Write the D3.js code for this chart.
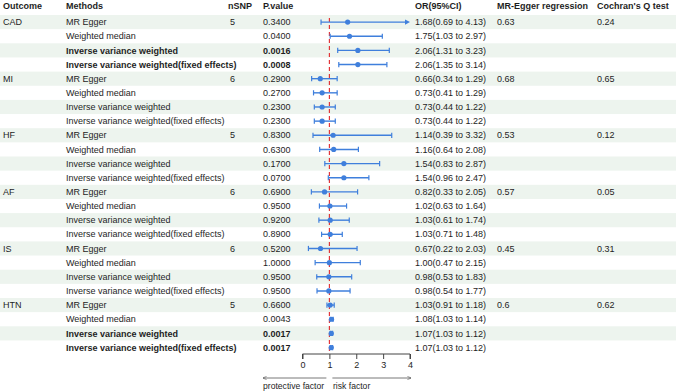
<!DOCTYPE html>
<html>
<head>
<meta charset="utf-8">
<script src="https://cdn.jsdelivr.net/npm/d3@7"></script>
<style>
  body { margin: 0; background: #fff; }
  svg { display: block; font-family: "Liberation Sans", Arial, sans-serif; }
</style>
</head>
<body>
<svg id="chart" width="676" height="392"></svg>
<script>
const outcomes = ['CAD', 'MI', 'HF', 'AF', 'IS', 'HTN']
const nSNP = [5, 6, 5, 6, 6, 5]
const eggerRegression = ['0.63', '0.68', '0.53', '0.57', '0.45', '0.6']
const cochranQ = ['0.24', '0.65', '0.12', '0.05', '0.31', '0.62']
const methods = ['MR Egger', 'Weighted median', 'Inverse variance weighted', 'Inverse variance weighted(fixed effects)']

// one entry per outcome x method
const pValues = [
  '0.3400', '0.0400', '0.0016', '0.0008',
  '0.2900', '0.2700', '0.2300', '0.2300',
  '0.8300', '0.6300', '0.1700', '0.0700',
  '0.6900', '0.9500', '0.9200', '0.8900',
  '0.5200', '1.0000', '0.9500', '0.9500',
  '0.6600', '0.0043', '0.0017', '0.0017'
]
const orValues = [
  1.68, 1.75, 2.06, 2.06,
  0.66, 0.73, 0.73, 0.73,
  1.14, 1.16, 1.54, 1.54,
  0.82, 1.02, 1.03, 1.03,
  0.67, 1.00, 0.98, 0.98,
  1.03, 1.08, 1.07, 1.07
]
const ciLower = [
  0.69, 1.03, 1.31, 1.35,
  0.34, 0.41, 0.44, 0.44,
  0.39, 0.64, 0.83, 0.96,
  0.33, 0.63, 0.61, 0.71,
  0.22, 0.47, 0.53, 0.54,
  0.91, 1.03, 1.03, 1.03
]
const ciUpper = [
  4.13, 2.97, 3.23, 3.14,
  1.29, 1.29, 1.22, 1.22,
  3.32, 2.08, 2.87, 2.47,
  2.05, 1.64, 1.74, 1.48,
  2.03, 2.15, 1.83, 1.77,
  1.18, 1.14, 1.12, 1.12
]
// rows highlighted in bold (IVW results that are significant)
const boldRows = [2, 3, 22, 23]
const xTicks = [0, 1, 2, 3, 4]

const blue = '#3f7fdc', red = '#e0262a', stripe = '#edf4ee', ink = '#1e1e1e'
const fontSize = 9

// build rows
const rows = []
outcomes.forEach((o, i) => {
  methods.forEach((m, j) => {
    const k = i * 4 + j
    rows.push({
      idx: k, outcome: j === 0 ? o : '', method: m,
      nsnp: j === 0 ? nSNP[i] : '',
      p: pValues[k], or: orValues[k], lo: ciLower[k], hi: ciUpper[k],
      egger: j === 0 ? eggerRegression[i] : '',
      q: j === 0 ? cochranQ[i] : '',
      bold: boldRows.includes(k)
    })
  })
})
rows.forEach(d => { d.orText = `${d.or.toFixed(2)}(${d.lo.toFixed(2)} to ${d.hi.toFixed(2)})` })

const svg = d3.select('#chart')
const width = 676

const y = d3.scaleBand().domain(d3.range(rows.length)).range([15, 15 + 14.15 * rows.length])
const x = d3.scaleLinear().domain([0, 4]).range([302.5, 410])

const cols = { outcome: 3, method: 66, nsnp: 228, p: 263, or: 415, egger: 497, q: 597 }

// stripes
svg.append('g').selectAll('rect')
  .data(rows.filter(d => d.idx % 2 === 0))
  .join('rect')
  .attr('x', 0).attr('width', width)
  .attr('y', d => y(d.idx)).attr('height', y.bandwidth())
  .attr('fill', stripe)

// header
const headers = [['Outcome', cols.outcome], ['Methods', cols.method], ['nSNP', cols.nsnp], ['P.value', cols.p],
  ['OR(95%CI)', cols.or], ['MR-Egger regression', cols.egger], ["Cochran's Q test", cols.q]]
svg.append('g').selectAll('text')
  .data(headers)
  .join('text')
  .attr('x', d => d[1]).attr('y', 6).attr('dy', '0.35em')
  .attr('font-size', fontSize).attr('font-weight', 'bold').attr('fill', ink)
  .text(d => d[0])

// table text
const textCols = [
  ['outcome', cols.outcome, false],
  ['method', cols.method, true],
  ['nsnp', cols.nsnp + 2, false],
  ['p', cols.p, true],
  ['orText', cols.or, false],
  ['egger', cols.egger, false],
  ['q', cols.q, false]
]

const tg = svg.append('g')
textCols.forEach(([key, cx, canBold]) => {
  tg.append('g').selectAll('text')
    .data(rows)
    .join('text')
    .attr('x', cx).attr('y', d => y(d.idx) + y.bandwidth() / 2).attr('dy', '0.35em')
    .attr('font-size', fontSize)
    .attr('font-weight', d => canBold && d.bold ? 'bold' : 'normal')
    .attr('fill', ink)
    .text(d => d[key])
})

// reference line at OR = 1
svg.append('line')
  .attr('x1', x(1)).attr('x2', x(1))
  .attr('y1', y(0) + 3).attr('y2', 354)
  .attr('stroke', red).attr('stroke-width', 1.1).attr('stroke-dasharray', '4,3')

// forest marks
const fg = svg.append('g')
const capH = 2.6
rows.forEach(d => {
  const cy = y(d.idx) + y.bandwidth() / 2
  const clipped = d.hi > 4
  const x1 = x(d.lo), x2 = x(Math.min(d.hi, 4))
  fg.append('line').attr('x1', x1).attr('x2', clipped ? x2 - 3 : x2).attr('y1', cy).attr('y2', cy)
    .attr('stroke', blue).attr('stroke-width', 1.4)
  fg.append('line').attr('x1', x1).attr('x2', x1).attr('y1', cy - capH).attr('y2', cy + capH)
    .attr('stroke', blue).attr('stroke-width', 1.2)
  if (clipped) {
    fg.append('path')
      .attr('d', `M${x2},${cy}L${x2 - 5},${cy - 2.6}L${x2 - 5},${cy + 2.6}Z`)
      .attr('fill', blue)
  } else {
    fg.append('line').attr('x1', x2).attr('x2', x2).attr('y1', cy - capH).attr('y2', cy + capH)
      .attr('stroke', blue).attr('stroke-width', 1.2)
  }
  fg.append('circle').attr('cx', x(d.or)).attr('cy', cy).attr('r', 2.6).attr('fill', blue)
})

// x axis
const axis = svg.append('g')
  .attr('transform', 'translate(0,354)')
  .call(d3.axisBottom(x).tickValues(xTicks).tickSize(5).tickPadding(3).tickFormat(d3.format('d')))
axis.select('.domain').attr('stroke', '#444').attr('d', `M${x(0)},5V0H${x(4)}V5`)
axis.selectAll('.tick line').attr('stroke', '#444')
axis.selectAll('.tick text').attr('font-size', fontSize).attr('fill', ink)
  .attr('font-family', '"Liberation Sans", Arial, sans-serif')

// direction arrows
const defs = svg.append('defs')
defs.append('marker').attr('id', 'arr').attr('viewBox', '0 0 10 10')
  .attr('refX', 9).attr('refY', 5).attr('markerWidth', 5).attr('markerHeight', 5)
  .attr('orient', 'auto-start-reverse')
  .append('path').attr('d', 'M0,1L10,5L0,9').attr('fill', 'none').attr('stroke', '#555').attr('stroke-width', 1.5)

svg.append('line').attr('x1', x(1) - 3).attr('x2', 263).attr('y1', 378).attr('y2', 378)
  .attr('stroke', '#555').attr('stroke-width', 0.8).attr('marker-end', 'url(#arr)')
svg.append('line').attr('x1', x(1) + 3).attr('x2', 411).attr('y1', 378).attr('y2', 378)
  .attr('stroke', '#555').attr('stroke-width', 0.8).attr('marker-end', 'url(#arr)')

svg.append('text').attr('x', 263).attr('y', 386).attr('dy', '0.35em')
  .attr('font-size', 8.6).attr('fill', ink).text('protective factor')
svg.append('text').attr('x', 333).attr('y', 386).attr('dy', '0.35em')
  .attr('font-size', 8.6).attr('fill', ink).text('risk factor')
</script>
</body>
</html>
